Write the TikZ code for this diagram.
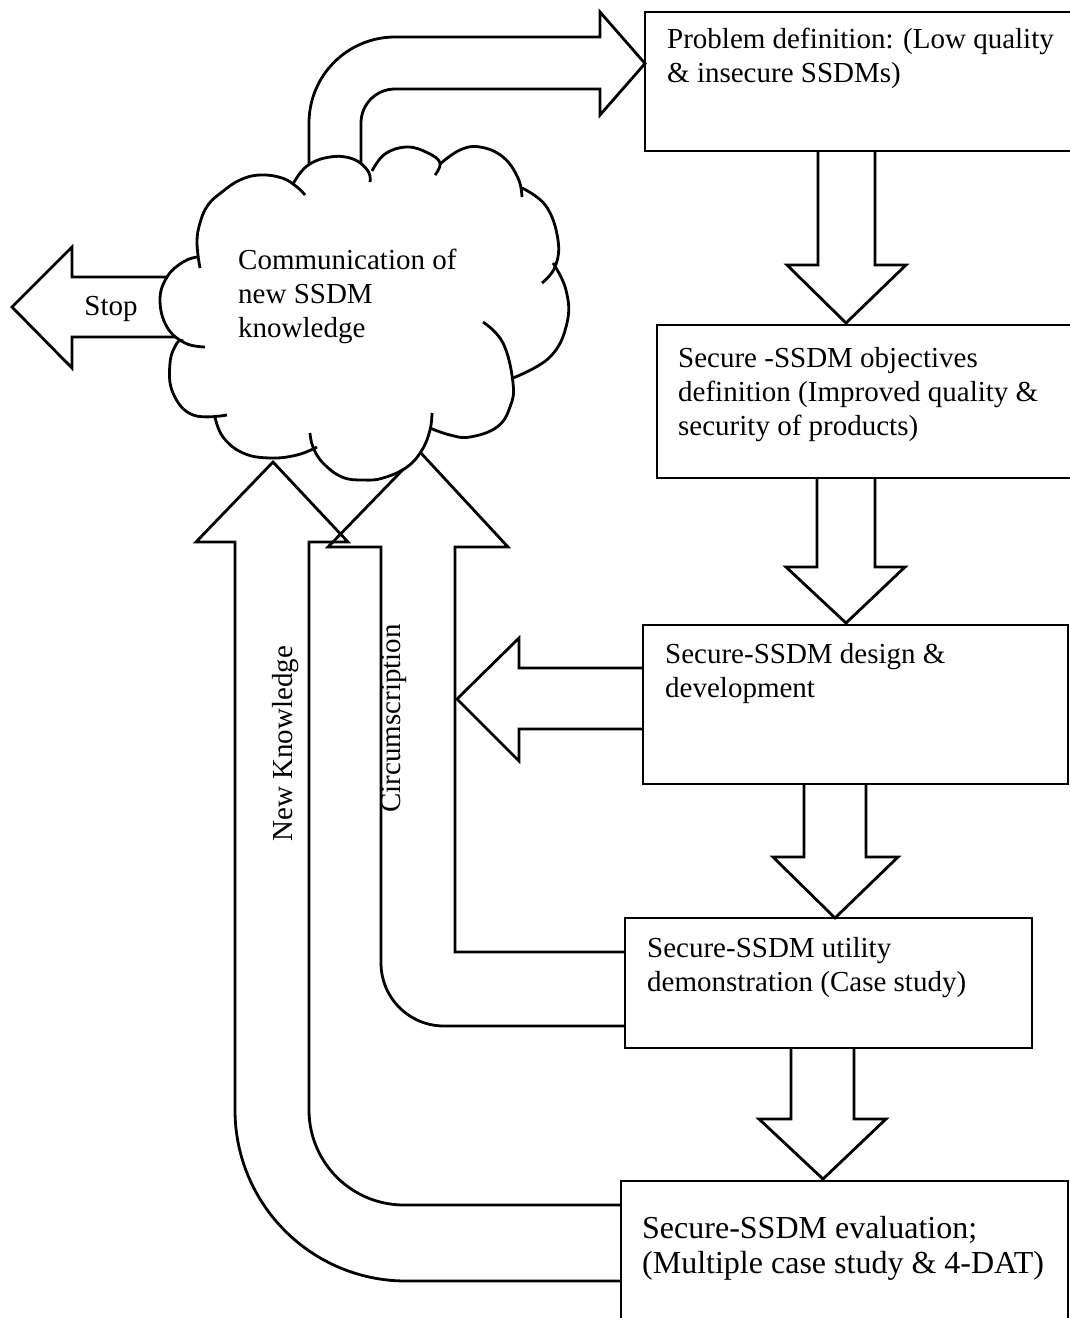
\documentclass[tikz,border=0pt]{standalone}
\usepackage{fontspec}
\setmainfont{Liberation Serif}
\begin{document}
\begin{tikzpicture}[x=1pt,y=-1pt,
  ln/.style={line width=2.8pt, line join=miter, miter limit=10},
  box/.style={draw, line width=2.8pt, inner sep=0pt, outer sep=0pt, anchor=north west},
  txt/.style={font=\fontsize{29}{34}\selectfont, align=left, inner sep=0pt, anchor=base west},
  cl/.style={line width=2.8pt, line cap=butt, smooth, tension=0.7}]
\useasboundingbox (0,0) rectangle (1070,1318);
\fill[white] (0,0) rectangle (1070,1318);
\clip (0,0) rectangle (1070,1318);

% boxes
\node[box, minimum width=445pt, minimum height=139pt] (b1) at (645,12) {};
\node[box, minimum width=433pt, minimum height=153pt] (b2) at (657,325) {};
\node[box, minimum width=425pt, minimum height=159pt] (b3) at (643,625) {};
\node[box, minimum width=407pt, minimum height=130pt] (b4) at (625,918) {};
\node[box, minimum width=447pt, minimum height=170pt] (b5) at (621,1181) {};

% down block arrows
\draw[ln] (818,151) -- (818,265) -- (787,265) -- (846,323) -- (906,265) -- (875,265) -- (875,151);
\draw[ln] (817,478) -- (817,567) -- (786,567) -- (846,623) -- (905,567) -- (875,567) -- (875,478);
\draw[ln] (804,784) -- (804,857) -- (773,857) -- (835,918) -- (898,857) -- (866,857) -- (866,784);
\draw[ln] (791,1048) -- (791,1119) -- (759,1119) -- (823,1179) -- (886,1119) -- (854,1119) -- (854,1048);

% left block arrow from design box
\draw[ln] (643,668) -- (519,668) -- (519,638) -- (457,699) -- (519,761) -- (519,729) -- (643,729);

% Stop arrow
\draw[ln] (190,277) -- (72,277) -- (72,247) -- (12,307) -- (72,368) -- (72,337) -- (190,337);

% top curved arrow
\draw[ln] (309,185) -- (309,123) .. controls (309,75.5) and (347.5,37) .. (395,37)
  -- (600,37) -- (600,12) -- (645,63.5) -- (600,115) -- (600,89) -- (395,89)
  .. controls (376.2,89) and (361,104.2) .. (361,123) -- (361,185);

% Circumscription arrow
\draw[ln] (625,1026) -- (444,1026) .. controls (409.2,1026) and (381,997.8) .. (381,963)
  -- (381,547) -- (328,547) -- (420,452) -- (508,547) -- (455,547) -- (455,952) -- (625,952);

% New Knowledge arrow
\draw[ln] (621,1281) -- (406,1281) .. controls (311.6,1281) and (235,1204.4) .. (235,1110)
  -- (235,542) -- (196,542) -- (273,462) -- (348,542) -- (309,542) -- (309,1110)
  .. controls (309,1162.5) and (351.5,1205) .. (404,1205) -- (621,1205);

% cloud fill
\fill[white] plot[smooth, tension=0.7] coordinates {(197,257) (197,243) (200,223) (208,205) (222,192) (240,180) (260,175) (282,178) (295,185)}
  -- plot[smooth, tension=0.7] coordinates {(293,183) (307,166) (330,157) (353,159) (368,171)}
  -- plot[smooth, tension=0.7] coordinates {(371,171) (385,154) (407,147) (428,153) (440,163)}
  -- plot[smooth, tension=0.7] coordinates {(440,164) (460,150) (480,147) (503,157) (518,178) (522,190)}
  -- plot[smooth, tension=0.7] coordinates {(522,188) (546,206) (558,240) (555,265)}
  -- plot[smooth, tension=0.7] coordinates {(553,263) (566,290) (567,323) (550,357) (513,380)}
  -- plot[smooth, tension=0.7] coordinates {(513,383) (510,407) (497,427) (470,437) (450,435) (430,428)}
  -- plot[smooth, tension=0.7] coordinates {(430,430) (422,450) (407,467) (383,478) (363,480) (342,477) (323,463) (317,452)}
  -- plot[smooth, tension=0.7] coordinates {(317,450) (297,455) (270,458) (243,453) (223,437) (215,417)}
  -- plot[smooth, tension=0.7] coordinates {(215,415) (193,415) (173,393) (170,363) (177,343) (183,341)}
  -- plot[smooth, tension=0.7] coordinates {(185,343) (167,327) (160,300) (167,277) (183,262) (197,257)} -- cycle;

% cloud outline (lobes)
\draw[cl] plot coordinates {(200,268) (197,243) (200,223) (208,205) (222,192) (240,180) (260,175) (282,178) (297,187) (305,195)};
\draw[cl] plot coordinates {(293,184) (307,166) (330,157) (353,159) (368,171) (370,182)};
\draw[cl] plot coordinates {(372,171) (385,154) (407,147) (428,153) (440,163) (435,175)};
\draw[cl] plot coordinates {(440,164) (460,150) (480,147) (503,157) (518,178) (522,197)};
\draw[cl] plot coordinates {(522,188) (546,206) (558,240) (555,267) (542,283)};
\draw[cl] plot coordinates {(553,263) (566,290) (567,323) (550,357) (513,378)};
\draw[cl] plot coordinates {(483,322) (503,343) (513,383) (510,407) (497,427) (470,437) (450,435) (430,428)};
\draw[cl] plot coordinates {(432,413) (430,430) (422,450) (407,467) (383,478) (363,480) (342,477) (323,463) (313,447) (310,433)};
\draw[cl] plot coordinates {(317,447) (297,455) (270,458) (243,453) (223,437) (215,417)};
\draw[cl] plot coordinates {(227,415) (193,415) (173,393) (170,363) (177,343) (183,341)};
\draw[cl] plot coordinates {(205,347) (185,343) (167,327) (160,300) (167,277) (183,262) (197,257)};

% texts (anchor = baseline of the last line)
\node[txt] (t1) at (667,82) {Problem definition: (Low quality\\\& insecure SSDMs)};
\node[txt] (t2) at (678,435) {Secure -SSDM objectives\\definition (Improved quality \&\\security of products)};
\node[txt] (t3) at (665,697) {Secure-SSDM design \&\\development};
\node[txt] (t4) at (647,991) {Secure-SSDM utility\\demonstration (Case study)};
\node[txt, font=\fontsize{32}{35}\selectfont] (t5) at (642,1273) {Secure-SSDM evaluation;\\(Multiple case study \& 4-DAT)};
\node[txt] (tc) at (238,337) {Communication of\\new SSDM\\knowledge};
\node[txt, anchor=base] (ts) at (111,315) {Stop};
\node[txt, rotate=90] (tn) at (292,842) {New Knowledge};
\node[txt, rotate=90] (tcir) at (400,813) {Circumscription};
\end{tikzpicture}
\end{document}
